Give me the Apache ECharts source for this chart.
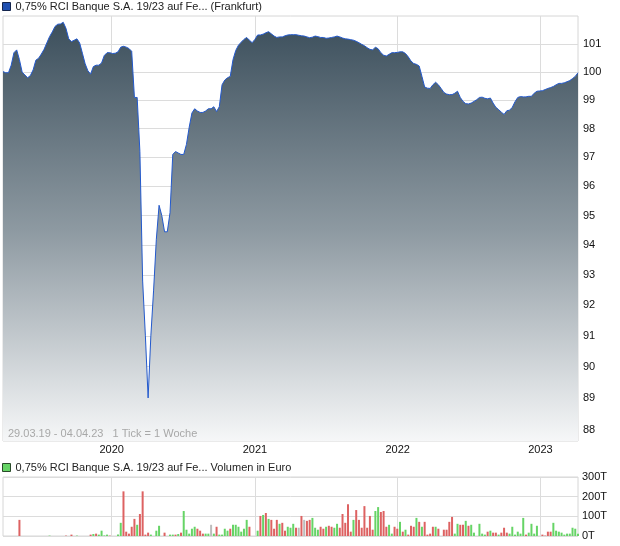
<!DOCTYPE html>
<html><head><meta charset="utf-8">
<script src="https://cdn.jsdelivr.net/npm/echarts@6/dist/echarts.min.js"></script>
<style>html,body{margin:0;padding:0;background:#fff}#c{width:620px;height:546px}</style>
</head><body><div id="c"></div>
<script>
const priceName = '0,75% RCI Banque S.A. 19/23 auf Fe... (Frankfurt)';
const volumeName = '0,75% RCI Banque S.A. 19/23 auf Fe... Volumen in Euro';
const footnote = '29.03.19 - 04.04.23   1 Tick = 1 Woche';
const startDate = [2019, 2, 29];
const weekCount = 211;
const yearTicks = [2020, 2021, 2022, 2023];
const priceTicks = [88, 89, 90, 91, 92, 93, 94, 95, 96, 97, 98, 99, 100, 101];
const volumeTicks = [0, 100, 200, 300];

const prices = [
 100.02, 99.98, 99.98, 100.25, 100.7, 100.8, 100.45, 100.0, 99.9, 99.8,
 99.88, 100.08, 100.43, 100.5, 100.65, 100.82, 101.05, 101.28, 101.45, 101.65,
 101.73, 101.74, 101.8, 101.58, 101.2, 101.1, 101.15, 101.2, 101.05, 100.68,
 100.3, 100.05, 99.93, 100.2, 100.25, 100.25, 100.33, 100.6, 100.7, 100.7,
 100.67, 100.68, 100.73, 100.9, 100.93, 100.9, 100.85, 100.75, 99.1, 99.1,
 97.2, 92.8, 91.0, 89.0, 91.0, 92.5, 94.2, 95.35, 95.0, 94.45,
 94.45, 95.1, 97.1, 97.2, 97.15, 97.1, 97.1, 97.45, 98.05, 98.55,
 98.7, 98.62, 98.57, 98.57, 98.62, 98.7, 98.7, 98.77, 98.6, 98.77,
 99.55, 99.72, 99.8, 99.85, 100.45, 100.78, 100.97, 101.08, 101.18, 101.25,
 101.15, 101.06, 101.18, 101.34, 101.34, 101.37, 101.42, 101.46, 101.38, 101.3,
 101.25, 101.27, 101.27, 101.31, 101.34, 101.35, 101.35, 101.35, 101.33, 101.31,
 101.3, 101.27, 101.24, 101.26, 101.3, 101.28, 101.25, 101.25, 101.22, 101.23,
 101.25, 101.27, 101.3, 101.27, 101.23, 101.2, 101.19, 101.17, 101.15, 101.11,
 101.06, 101.0, 100.95, 100.88, 100.82, 100.8, 100.9, 100.84, 100.7, 100.61,
 100.58, 100.64, 100.7, 100.7, 100.71, 100.73, 100.73, 100.67, 100.55, 100.4,
 100.31, 100.28, 100.22, 99.85, 99.47, 99.43, 99.42, 99.55, 99.64, 99.55,
 99.42, 99.28, 99.22, 99.2, 99.2, 99.25, 99.32, 99.1, 98.96, 98.88,
 98.87, 98.9, 98.96, 99.02, 99.1, 99.11, 99.07, 99.05, 99.08, 98.9,
 98.75, 98.67, 98.58, 98.5, 98.63, 98.65, 98.75, 98.95, 99.1, 99.13,
 99.12, 99.12, 99.14, 99.14, 99.25, 99.32, 99.33, 99.34, 99.38, 99.42,
 99.45, 99.49, 99.55, 99.6, 99.6, 99.62, 99.66, 99.7, 99.77, 99.85, 99.98
];

// weekly volume in thousand euro
const volumes = [
 0,0,0,0,0,0,82,0,0,0,
 0,0,0,0,0,0,0,2,0,0,
 0,0,0,2,0,7,0,2,0,0,
 0,0,7,10,12,7,27,3,7,2,
 0,0,7,67,227,22,12,47,87,57,
 112,227,7,17,7,0,27,52,0,17,
 0,7,7,7,10,17,127,32,12,37,
 47,37,27,12,12,12,57,12,47,7,
 7,37,27,37,57,57,47,22,37,82,
 47,0,0,27,102,107,117,87,82,37,
 82,62,67,27,47,42,62,42,42,102,
 82,77,82,92,42,32,47,37,47,52,
 47,42,62,42,112,67,162,22,82,132,
 82,42,152,42,102,32,127,147,122,127,
 47,57,12,47,37,72,22,32,7,52,
 47,92,72,47,72,7,12,47,47,37,
 0,32,32,72,97,12,62,57,57,77,
 52,57,17,0,62,12,7,22,27,17,
 17,7,17,42,17,12,47,7,22,12,
 92,7,17,62,12,52,0,7,2,22,
 22,67,27,22,17,7,12,12,42,37,12
];
// u = up (green), d = down (red), n = unchanged (grey), - = no trade
const volumeDirection = (
 '------d---' + '-------u--' + '---d-d-u--' + '--duduuuud' + '--uudddddu' +
 'ddddu-uu-d' + '-uududuuuu' + 'uddduunudu' + 'uuuduuuuuu' + 'd--udududd' +
 'dudduuudnd' + 'ndduuuddud' + 'duudddddud' + 'dddddduudd' + 'duuddududd' +
 'dududdddud' + '-dddduuddu' + 'duu-uuudud' + 'duddduuuuu' + 'uduuuu-ddd' +
 'duuuuuuuuuu'
).split('');

const DAY = 86400000;
const weeks = [];
const t0 = Date.UTC(startDate[0], startDate[1], startDate[2]);
for (let i = 0; i < weekCount; i++) weeks.push(t0 + i * 7 * DAY);
const yearTickTimes = yearTicks.map(y => Date.UTC(y, 0, 1));
const dirColor = { u: '#66d466', d: '#dd6262', n: '#bdbdbd', '-': '#bdbdbd' };
const font = 'Liberation Sans';
const xMin = weeks[0], xMax = weeks[weeks.length - 1];

const chart = echarts.init(document.getElementById('c'), null, { renderer: 'canvas' });
chart.setOption({
  animation: false,
  backgroundColor: '#ffffff',
  textStyle: { fontFamily: font },
  legend: [
    { data: [{ name: priceName, icon: 'rect', itemStyle: { color: '#1f4fb0', borderColor: '#14254d', borderWidth: 1 } }],
      left: 2, top: 1, itemWidth: 8, itemHeight: 8, selectedMode: false, padding: 0,
      textStyle: { fontSize: 11, color: '#222', fontFamily: font } },
    { data: [{ name: volumeName, icon: 'rect', itemStyle: { color: '#66d466', borderColor: '#2a4a2a', borderWidth: 1 } }],
      left: 2, top: 462, itemWidth: 8, itemHeight: 8, selectedMode: false, padding: 0,
      textStyle: { fontSize: 11, color: '#222', fontFamily: font } }
  ],
  grid: [
    { left: 3, right: 42, top: 16, height: 425, show: true, borderColor: '#d6d6d6', borderWidth: 1 },
    { left: 3, right: 42, top: 477, height: 59, show: true, borderColor: '#d6d6d6', borderWidth: 1 }
  ],
  xAxis: [
    { type: 'value', gridIndex: 0, min: xMin, max: xMax,
      axisLine: { show: false }, axisTick: { show: false, customValues: yearTickTimes },
      axisLabel: { customValues: yearTickTimes, formatter: v => String(new Date(v).getUTCFullYear()),
        fontSize: 11, color: '#111', margin: 3, fontFamily: font },
      splitLine: { show: true, lineStyle: { color: '#dcdcdc', width: 1 } } },
    { type: 'value', gridIndex: 1, min: xMin, max: xMax,
      axisLine: { show: false }, axisTick: { show: false, customValues: yearTickTimes },
      axisLabel: { show: false, customValues: yearTickTimes },
      splitLine: { show: true, lineStyle: { color: '#dcdcdc', width: 1 } } }
  ],
  yAxis: [
    { type: 'log', logBase: 10, gridIndex: 0, position: 'right', min: 87.64, max: 102.03,
      axisLine: { show: false }, axisTick: { show: false, customValues: priceTicks },
      axisLabel: { customValues: priceTicks, formatter: v => String(Math.round(v)),
        fontSize: 11, color: '#111', margin: 5, fontFamily: font },
      splitLine: { show: true, lineStyle: { color: '#dcdcdc', width: 1 } } },
    { type: 'value', gridIndex: 1, position: 'right', min: volumeTicks[0], max: volumeTicks[volumeTicks.length - 1], interval: 100,
      axisLine: { show: false }, axisTick: { show: false },
      axisLabel: { formatter: v => v + 'T', fontSize: 11, color: '#111', margin: 4, fontFamily: font },
      splitLine: { show: true, lineStyle: { color: '#dcdcdc', width: 1 } } }
  ],
  graphic: [
    { type: 'text', left: 8, top: 428, silent: true, z: 100, zlevel: 0,
      style: { text: footnote, fill: '#a8a8a8', font: '11px "Liberation Sans"' } }
  ],
  series: [
    { name: priceName, type: 'line', xAxisIndex: 0, yAxisIndex: 0,
      data: weeks.map((d, i) => [d, prices[i]]),
      symbol: 'none', showSymbol: false,
      lineStyle: { color: '#2359cc', width: 1 },
      itemStyle: { color: '#1f4fb0' },
      areaStyle: { origin: 'start', opacity: 1,
        color: new echarts.graphic.LinearGradient(0, 0, 0, 1, [
          { offset: 0, color: '#3c4f5c' },
          { offset: 0.5, color: '#8e9aa2' },
          { offset: 1, color: '#f6f7f8' }
        ]) } },
    { name: volumeName, type: 'bar', xAxisIndex: 1, yAxisIndex: 1, barWidth: 2,
      itemStyle: { color: '#66d466' },
      data: weeks.map((d, i) => ({ value: [d, volumes[i]], itemStyle: { color: dirColor[volumeDirection[i]] } })) }
  ]
});
</script>
</body></html>
